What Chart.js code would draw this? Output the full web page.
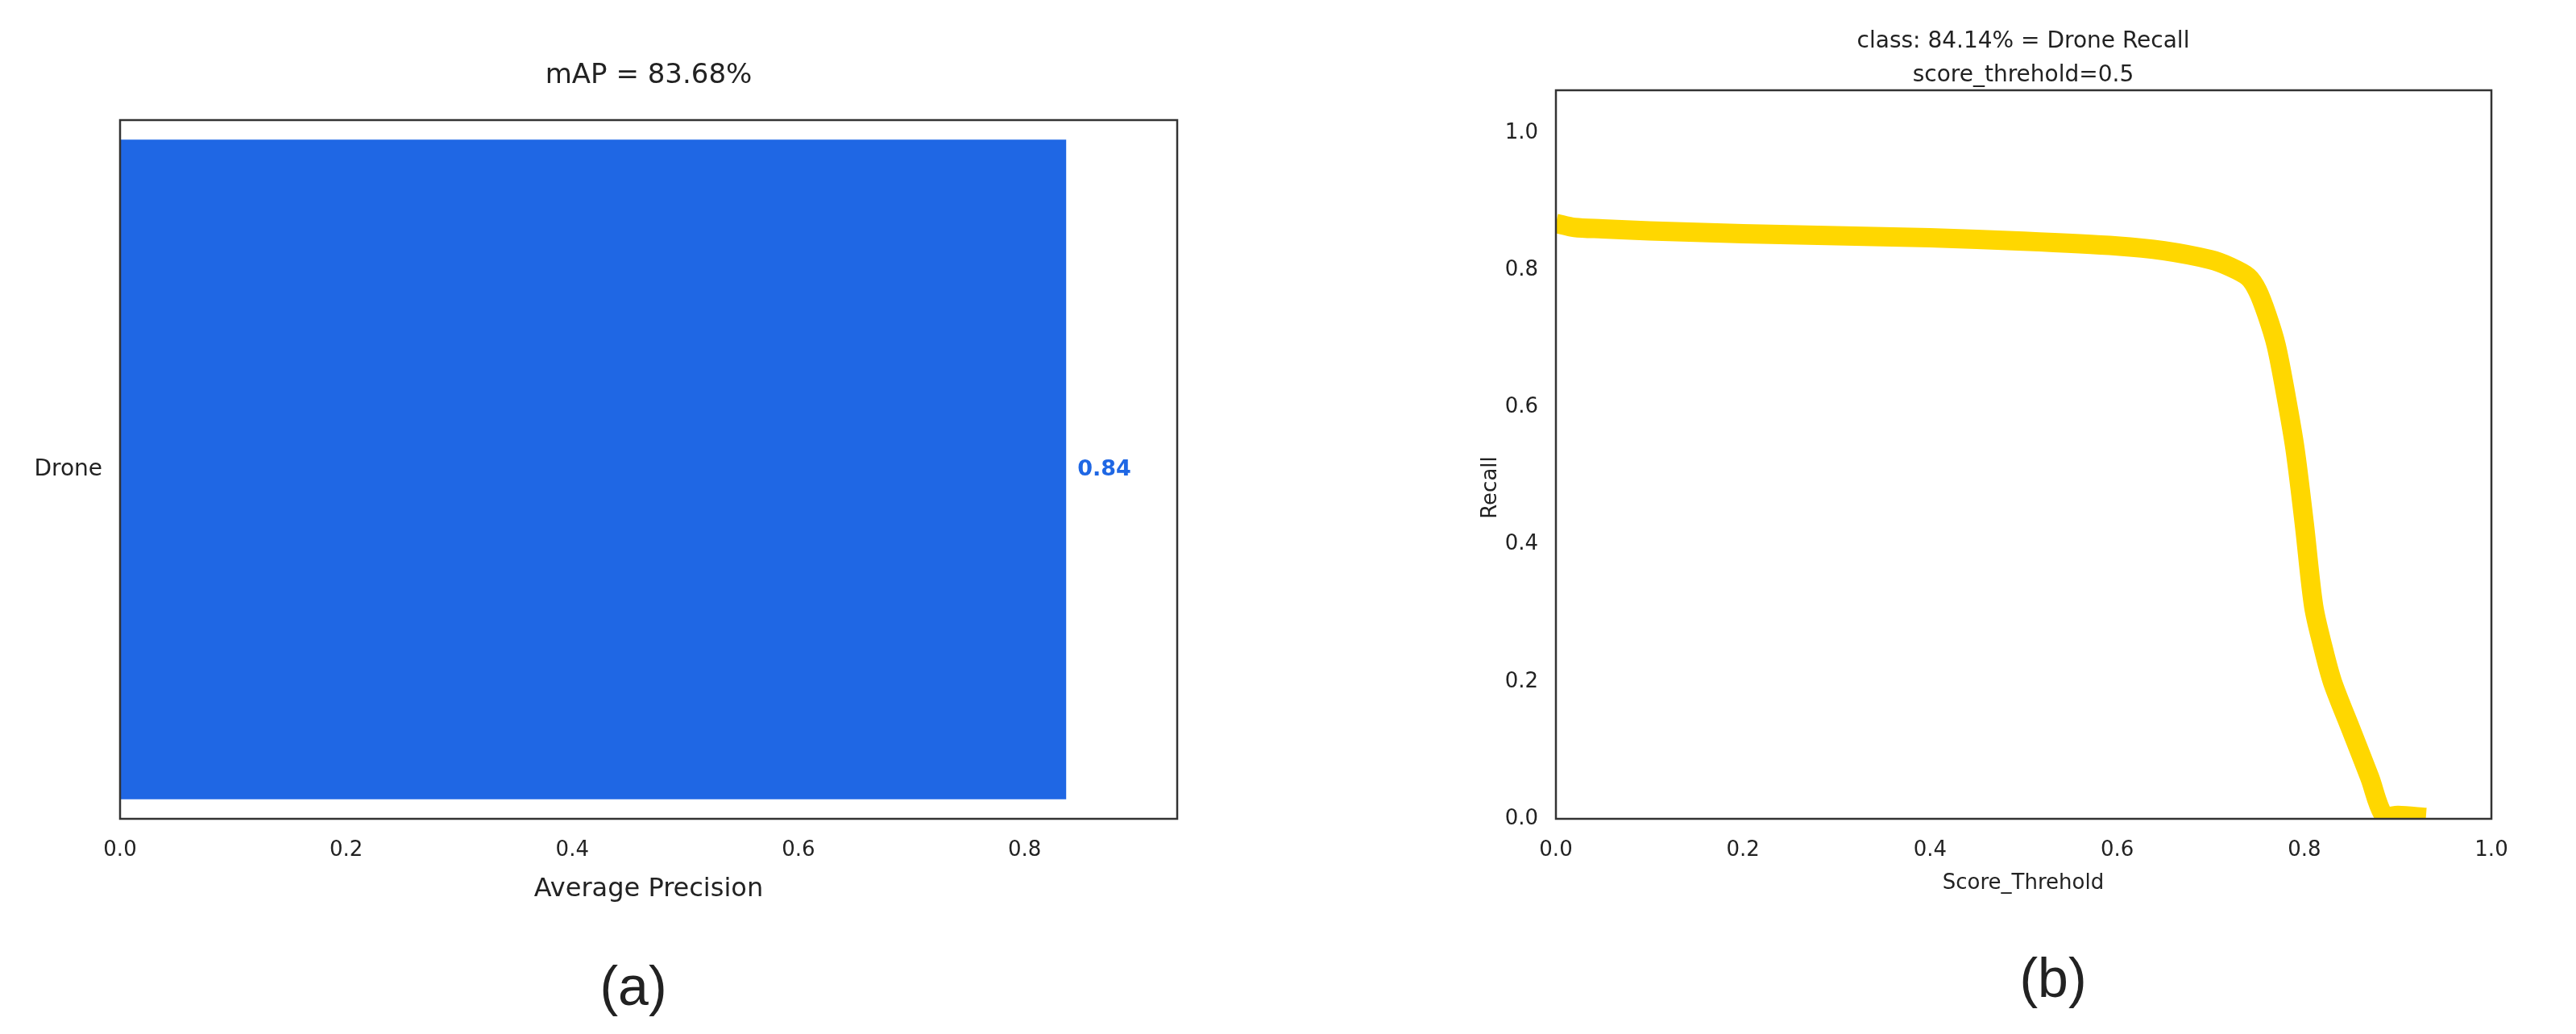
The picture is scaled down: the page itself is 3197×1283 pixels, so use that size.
<!DOCTYPE html><html><head><meta charset="utf-8">
<script src="https://cdn.jsdelivr.net/npm/chart.js@4/dist/chart.umd.min.js"></script>
<style>html,body{margin:0;background:#fff;width:3197px;height:1283px;overflow:hidden}
#wa{position:absolute;left:0;top:0;width:1600px;height:1283px}
#wb{position:absolute;left:1600px;top:0;width:1597px;height:1283px}</style></head><body>
<div id="wa"><canvas id="ca"></canvas></div><div id="wb"><canvas id="cb"></canvas></div>
<script>
const classes=["Drone"];
const apValues=[0.8368];
const apLabels=["0.84"];
const xTicksA=[0,0.2,0.4,0.6,0.8];
const thresholds=[0,0.02,0.05,0.1,0.2,0.3,0.4,0.5,0.6,0.65,0.7,0.72,0.74,0.75,0.76,0.77,0.78,0.79,0.8,0.81,0.82,0.83,0.85,0.87,0.885,0.9,0.93];
const recalls=[0.868,0.862,0.86,0.857,0.853,0.85,0.847,0.842,0.835,0.828,0.815,0.805,0.79,0.77,0.735,0.69,0.62,0.54,0.43,0.31,0.25,0.2,0.13,0.06,0.005,0.005,0.002];
const F='"DejaVu Sans", sans-serif';
const frame={id:'frame',afterDraw(c,a,o){const x=c.ctx,A=c.chartArea;x.save();x.strokeStyle='#333';x.lineWidth=2.5;x.strokeRect(A.left,A.top,A.right-A.left,A.bottom-A.top);
x.fillStyle='#222';x.textAlign='center';x.textBaseline='middle';
(o.texts||[]).forEach(t=>{x.save();x.font=t.font;x.fillStyle=t.color||'#222';x.textAlign=t.align||'center';x.translate(t.x,t.y);if(t.rot)x.rotate(t.rot);x.fillText(t.s,0,0);x.restore();});
if(o.barLabel){const m=c.getDatasetMeta(0);m.data.forEach((b,i)=>{x.font='bold 27px '+F;x.fillStyle='#1f67e4';x.textAlign='left';x.fillText(apLabels[i],b.x+14,b.y);});}
x.restore();}};
Chart.register(frame);
new Chart(document.getElementById('ca'),{type:'bar',
data:{labels:classes,datasets:[{data:apValues,backgroundColor:'#1f67e4',barPercentage:0.944,categoryPercentage:1}]},
options:{indexAxis:'y',responsive:true,maintainAspectRatio:false,animation:false,
layout:{padding:{left:0,right:139,top:149,bottom:117}},
plugins:{legend:{display:false},tooltip:{enabled:false},
frame:{barLabel:true,texts:[{s:'mAP = 83.68%',x:805,y:94,font:'34px '+F},{s:'Average Precision',x:805,y:1104,font:'32px '+F},{s:'(a)',x:786,y:1228,font:'68px Arial, sans-serif'}]}},
scales:{x:{min:0,max:0.935,afterFit(s){s.height=150},afterBuildTicks(s){s.ticks=xTicksA.map(v=>({value:v}))},
ticks:{font:{size:26,family:F},color:'#222',padding:10,callback:v=>v.toFixed(1)},grid:{display:false,drawTicks:true,tickLength:14,color:'#333',tickColor:'#333'},border:{display:false}},
y:{afterFit(s){s.width=149},ticks:{font:{size:28,family:F},color:'#222',padding:8},grid:{display:false,tickLength:14,tickColor:'#333'},border:{display:false}}}}});
new Chart(document.getElementById('cb'),{type:'line',
data:{datasets:[{data:thresholds.map((t,i)=>({x:t,y:recalls[i]})),borderColor:'#ffd700',borderWidth:24,pointRadius:0,tension:0.3,borderCapStyle:'butt'}]},
options:{responsive:true,maintainAspectRatio:false,animation:false,
layout:{padding:{left:0,right:105,top:112,bottom:117}},
plugins:{legend:{display:false},tooltip:{enabled:false},
frame:{texts:[{s:'class: 84.14% = Drone Recall',x:911,y:52,font:'28px '+F},{s:'score_threhold=0.5',x:911,y:94,font:'28px '+F},{s:'Score_Threhold',x:911,y:1096,font:'26px '+F},{s:'Recall',x:250,y:605,font:'26px '+F,rot:-Math.PI/2},{s:'(b)',x:948,y:1218,font:'68px Arial, sans-serif'}]}},
scales:{x:{type:'linear',min:0,max:1,afterFit(s){s.height=150},ticks:{stepSize:0.2,font:{size:26,family:F},color:'#222',padding:10,callback:v=>v.toFixed(1)},grid:{display:false,tickLength:14,tickColor:'#333'},border:{display:false}},
y:{min:0,max:1.062,afterFit(s){s.width=331},afterBuildTicks(s){s.ticks=[0,0.2,0.4,0.6,0.8,1.0].map(v=>({value:v}))},ticks:{font:{size:26,family:F},color:'#222',padding:8,callback:v=>v.toFixed(1)},grid:{display:false,tickLength:14,tickColor:'#333'},border:{display:false}}}}});
</script></body></html>
